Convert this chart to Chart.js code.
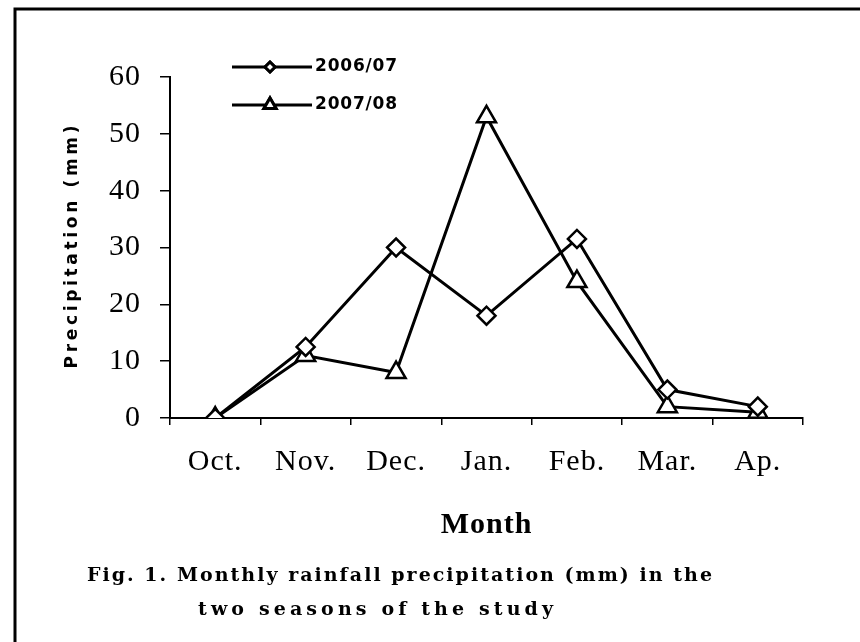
<!DOCTYPE html>
<html lang="en">
<head>
  <meta charset="UTF-8">
  <title>Monthly rainfall precipitation</title>
  <script src="https://cdn.jsdelivr.net/npm/chart.js"></script>
  <style>
    html, body { margin: 0; padding: 0; background: #fff; }
    canvas { display: block; }
  </style>
</head>
<body>
  <canvas id="grafico" width="860" height="642"></canvas>

  <script>
    // data
    const months = ['Oct.', 'Nov.', 'Dec.', 'Jan.', 'Feb.', 'Mar.', 'Ap.'];
    const season0607 = [0, 12.5, 30, 18, 31.5, 5, 2];
    const season0708 = [0, 11, 8, 53, 24, 2, 1];
    const yTickValues = [0, 10, 20, 30, 40, 50, 60];
    const seriesLabels = ['2006/07', '2007/08'];
    const yTitle = 'Precipitation (mm)';
    const xTitle = 'Month';
    const captionLines = ['Fig. 1. Monthly rainfall precipitation (mm) in the', 'two seasons of the study'];

    // draw text with letter spacing stretched to a given width
    function spacedText(ctx, text, x, y, width) {
      ctx.letterSpacing = '0px';
      const natural = ctx.measureText(text).width;
      const sp = Math.max(0, (width - natural) / (text.length - 1));
      ctx.letterSpacing = sp + 'px';
      ctx.fillText(text, x, y);
    }

    const figurePlugin = {
      id: 'figure',
      beforeDraw(chart) {
        const ctx = chart.ctx;
        ctx.save();
        ctx.fillStyle = '#fff';
        ctx.fillRect(0, 0, chart.width, chart.height);
        // frame (only left and top visible)
        ctx.strokeStyle = '#000';
        ctx.lineWidth = 3;
        ctx.beginPath();
        ctx.moveTo(15, chart.height);
        ctx.lineTo(15, 9);
        ctx.lineTo(chart.width, 9);
        ctx.stroke();
        ctx.restore();
        // spacing for the library's own text (ticks, x title)
        ctx.letterSpacing = '1px';
      },
      afterDraw(chart) {
        const ctx = chart.ctx;
        const area = chart.chartArea;
        ctx.save();
        ctx.fillStyle = '#000';
        ctx.textBaseline = 'middle';

        // y axis title, rotated
        ctx.translate(73, (area.top + area.bottom) / 2);
        ctx.rotate(-Math.PI / 2);
        ctx.font = 'bold 17px "DejaVu Sans"';
        ctx.textAlign = 'left';
        spacedText(ctx, yTitle, -121, 0, 243);
        ctx.setTransform(1, 0, 0, 1, 0, 0);

        // legend: line + marker + label
        const rows = [67, 105];
        chart.data.datasets.forEach((ds, i) => {
          const y = rows[i];
          ctx.strokeStyle = '#000';
          ctx.lineWidth = 3;
          ctx.beginPath();
          ctx.moveTo(232, y);
          ctx.lineTo(312, y);
          ctx.stroke();
          Chart.helpers.drawPoint(ctx, {
            pointStyle: ds.pointStyle,
            radius: i === 0 ? 5 : 7,
            rotation: 0,
            borderWidth: 2.5
          }, 270, y);
          ctx.fillStyle = '#fff';
          ctx.fill();
          ctx.stroke();
          ctx.fillStyle = '#000';
          ctx.font = 'bold 17px "DejaVu Sans"';
          ctx.textAlign = 'left';
          spacedText(ctx, ds.label, 315, y, 82);
        });

        // caption under the figure
        ctx.font = 'bold 19px "DejaVu Serif"';
        ctx.textAlign = 'left';
        spacedText(ctx, captionLines[0], 87, 576, 625);
        spacedText(ctx, captionLines[1], 198, 610, 355);

        ctx.restore();
        ctx.letterSpacing = '0px';
      }
    };

    const ctx = document.getElementById('grafico').getContext('2d');
    new Chart(ctx, {
      type: 'line',
      data: {
        labels: months,
        datasets: [{
          label: seriesLabels[0],
          data: season0607,
          borderColor: '#000',
          borderWidth: 3,
          pointStyle: 'rectRot',
          pointRadius: 9,
          pointBorderWidth: 2.5,
          pointBackgroundColor: '#fff',
          pointBorderColor: '#000',
          tension: 0,
          fill: false
        }, {
          label: seriesLabels[1],
          data: season0708,
          borderColor: '#000',
          borderWidth: 3,
          pointStyle: 'triangle',
          pointRadius: 11,
          pointBorderWidth: 2.5,
          pointBackgroundColor: '#fff',
          pointBorderColor: '#000',
          tension: 0,
          fill: false
        }]
      },
      options: {
        responsive: false,
        animation: false,
        layout: { padding: { left: 0, top: 77, right: 57, bottom: 0 } },
        plugins: {
          legend: { display: false },
          tooltip: { enabled: false }
        },
        scales: {
          x: {
            offset: true,
            grid: { display: true, offset: true, drawOnChartArea: false, drawTicks: true, tickLength: 7, color: '#000', lineWidth: 1.5 },
            border: { display: true, color: '#000', width: 2 },
            ticks: { color: '#000', padding: 19, font: { family: '"Liberation Serif"', size: 30 } },
            title: {
              display: true,
              text: xTitle,
              color: '#000',
              font: { family: '"Liberation Serif"', size: 30, weight: 'bold' },
              padding: { top: 0, bottom: 99 }
            },
            afterFit(scale) { scale.height = 224; }
          },
          y: {
            min: 0,
            max: 60,
            grid: { drawOnChartArea: false, drawTicks: true, tickLength: 10, color: '#000', lineWidth: 1.5 },
            border: { display: true, color: '#000', width: 2 },
            ticks: { color: '#000', padding: 19, font: { family: '"Liberation Serif"', size: 30 } },
            afterBuildTicks(scale) { scale.ticks = yTickValues.map(v => ({ value: v })); },
            afterFit(scale) { scale.width = 170; }
          }
        }
      },
      plugins: [figurePlugin]
    });
  </script>
</body>
</html>
